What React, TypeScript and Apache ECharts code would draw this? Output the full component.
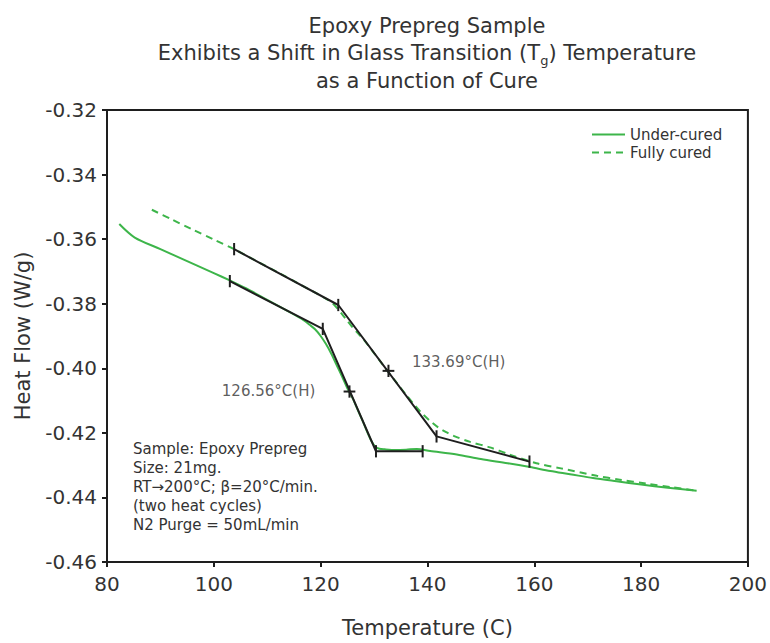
import React, { useEffect, useRef } from 'react';
import * as echarts from 'echarts';

// Under-cured DSC curve (Temperature °C, Heat Flow W/g)
const underCured: [number, number][] = [
  [82.3, -0.3553], [85.2, -0.3595], [90, -0.3631], [95, -0.3668], [100, -0.3705],
  [103, -0.3728], [106, -0.3752], [110, -0.3788], [114.3, -0.3827], [116.8, -0.3851],
  [118, -0.3866], [119, -0.388], [120, -0.39], [121, -0.3925], [122, -0.3955],
  [123, -0.399], [124, -0.4025], [125, -0.4062], [126, -0.4093], [127, -0.4131],
  [128, -0.4168], [128.8, -0.42], [129.5, -0.4225], [130.2, -0.4242], [131, -0.4249],
  [132, -0.4251], [134, -0.4253], [136, -0.4252], [138, -0.425], [140.5, -0.4256],
  [145.5, -0.4267], [150, -0.4281], [155, -0.4294], [159.2, -0.4306], [163, -0.4318],
  [166.7, -0.4328], [171, -0.434], [175.4, -0.435], [180, -0.436], [185, -0.437],
  [190.4, -0.4379],
];

// Fully cured DSC curve
const fullyCured: [number, number][] = [
  [88.4, -0.3509], [92, -0.3538], [96, -0.357], [100, -0.3601], [103.8, -0.3631],
  [108, -0.3668], [112, -0.3703], [116, -0.3739], [119, -0.3766], [120.5, -0.378],
  [122, -0.3795], [123, -0.3812], [124, -0.3832], [125, -0.3853], [126, -0.3874],
  [127, -0.3892], [128, -0.391], [130, -0.3953], [132, -0.3997], [134, -0.404],
  [136, -0.4082], [137.5, -0.4112], [139, -0.414], [140.5, -0.4163], [142, -0.4183],
  [143.5, -0.4198], [145, -0.421], [148, -0.4228], [151.7, -0.4245], [155, -0.4265],
  [160.4, -0.4294], [165, -0.431], [171.7, -0.4333], [176, -0.4345], [181, -0.4357],
  [186, -0.4369], [190.4, -0.4379],
];

// Tangent construction lines (onset / midpoint / end)
const underTangent: [number, number][] = [
  [103.0, -0.373], [120.4, -0.3878], [130.36, -0.4257], [139.1, -0.4257],
];
const fullyTangent: [number, number][] = [
  [103.8, -0.3631], [123.3, -0.3804], [141.7, -0.4211], [159.1, -0.4289],
];
const crossPoints: [number, number][] = [
  [125.4, -0.4072], [132.7, -0.4008],
];

// Tg labels
const tgLabelPos: [number, number][] = [[101.5, -0.4069], [137.1, -0.398]];
const tgLabelText: string[] = ['126.56°C(H)', '133.69°C(H)'];

const seriesNames = ['Under-cured', 'Fully cured'];
const sampleNotes = [
  'Sample: Epoxy Prepreg',
  'Size: 21mg.',
  'RT→200°C; β=20°C/min.',
  '(two heat cycles)',
  'N2 Purge = 50mL/min',
];

const GREEN = '#3db54a';
const BLACK = '#1e1e1e';
const TEXT = '#333333';
const FONT = 'DejaVu Sans';
const TICK_H = 0.0019;
const CROSS_W = 1.1;

export default function App() {
  const ref = useRef<HTMLDivElement>(null);

  useEffect(() => {
    if (!ref.current) return;
    const chart = echarts.init(ref.current, undefined, { renderer: 'svg' });

    const blackLine = (data: [number, number][], id: string) => ({
      id,
      type: 'line' as const,
      data,
      symbol: 'none',
      showSymbol: false,
      silent: true,
      z: 5,
      lineStyle: { color: BLACK, width: 2 },
      itemStyle: { color: BLACK },
    });

    const tickSeries = [...underTangent, ...fullyTangent].map((p, i) =>
      blackLine([[p[0], p[1] - TICK_H], [p[0], p[1] + TICK_H]], 'tick' + i)
    );
    const crossSeries = crossPoints.flatMap((p, i) => [
      blackLine([[p[0], p[1] - TICK_H], [p[0], p[1] + TICK_H]], 'crossV' + i),
      blackLine([[p[0] - CROSS_W, p[1]], [p[0] + CROSS_W, p[1]]], 'crossH' + i),
    ]);

    chart.setOption({
      animation: false,
      backgroundColor: '#ffffff',
      textStyle: { fontFamily: FONT, color: TEXT },
      grid: {
        left: 107, right: 22, top: 110, bottom: 74,
        show: true, borderColor: BLACK, borderWidth: 2,
      },
      graphic: [
        {
          type: 'text',
          x: 427,
          y: 12,
          style: {
            text: 'Epoxy Prepreg Sample\nExhibits a Shift in Glass Transition (T{sub|g}) Temperature\nas a Function of Cure',
            align: 'center',
            verticalAlign: 'top',
            fontFamily: FONT,
            fontSize: 21,
            lineHeight: 27.5,
            fill: TEXT,
            rich: {
              sub: { fontSize: 13, fontFamily: FONT, fill: TEXT, verticalAlign: 'bottom', lineHeight: 23 },
            },
          },
        },
        {
          type: 'text',
          x: 133,
          y: 439.5,
          style: {
            text: sampleNotes.join('\n'),
            align: 'left',
            verticalAlign: 'top',
            fontFamily: FONT,
            fontSize: 15,
            lineHeight: 19,
            fill: TEXT,
          },
        },
      ],
      legend: {
        data: seriesNames,
        orient: 'vertical',
        left: 586,
        top: 122,
        itemWidth: 33,
        itemHeight: 12,
        itemGap: 3,
        itemStyle: { opacity: 0 },
        textStyle: { fontFamily: FONT, fontSize: 15, color: TEXT },
      },
      xAxis: {
        type: 'value',
        min: 80,
        max: 200,
        interval: 20,
        name: 'Temperature (C)',
        nameLocation: 'middle',
        nameGap: 55,
        nameTextStyle: { fontFamily: FONT, fontSize: 21, color: TEXT },
        axisLine: { lineStyle: { color: BLACK, width: 2 } },
        axisTick: { show: true, inside: false, length: 5, lineStyle: { color: BLACK, width: 2 } },
        axisLabel: { fontFamily: FONT, fontSize: 20, color: TEXT, margin: 12 },
        splitLine: { show: false },
      },
      yAxis: {
        type: 'value',
        min: -0.46,
        max: -0.32,
        interval: 0.02,
        name: 'Heat Flow (W/g)',
        nameLocation: 'middle',
        nameRotate: 90,
        nameGap: 74,
        nameTextStyle: { fontFamily: FONT, fontSize: 21, color: TEXT },
        axisLine: { show: true, lineStyle: { color: BLACK, width: 2 } },
        axisTick: { show: true, inside: false, length: 5, lineStyle: { color: BLACK, width: 2 } },
        axisLabel: {
          fontFamily: FONT, fontSize: 20, color: TEXT, margin: 10,
          formatter: (v: number) => v.toFixed(2),
        },
        splitLine: { show: false },
      },
      series: [
        {
          name: seriesNames[0],
          type: 'line',
          data: underCured,
          symbol: 'none',
          showSymbol: false,
          smooth: 0.3,
          lineStyle: { color: GREEN, width: 2 },
          itemStyle: { color: GREEN },
          z: 3,
        },
        {
          name: seriesNames[1],
          type: 'line',
          data: fullyCured,
          symbol: 'none',
          showSymbol: false,
          smooth: 0.3,
          lineStyle: { color: GREEN, width: 2, type: [7, 5] },
          itemStyle: { color: GREEN },
          z: 3,
        },
        blackLine(underTangent, 'underTangent'),
        blackLine(fullyTangent, 'fullyTangent'),
        ...tickSeries,
        ...crossSeries,
        {
          id: 'tgLabels',
          type: 'scatter',
          data: tgLabelPos.map((p, i) => ({ value: p, name: tgLabelText[i] })),
          symbolSize: 0,
          silent: true,
          z: 6,
          label: {
            show: true,
            position: 'right',
            distance: 0,
            formatter: (p: any) => p.name,
            fontFamily: FONT,
            fontSize: 15,
            color: TEXT,
          },
        },
      ],
    });

    return () => chart.dispose();
  }, []);

  return (
    <div
      ref={ref}
      style={{ position: 'absolute', left: 0, top: 0, width: 770, height: 643 }}
    />
  );
}
